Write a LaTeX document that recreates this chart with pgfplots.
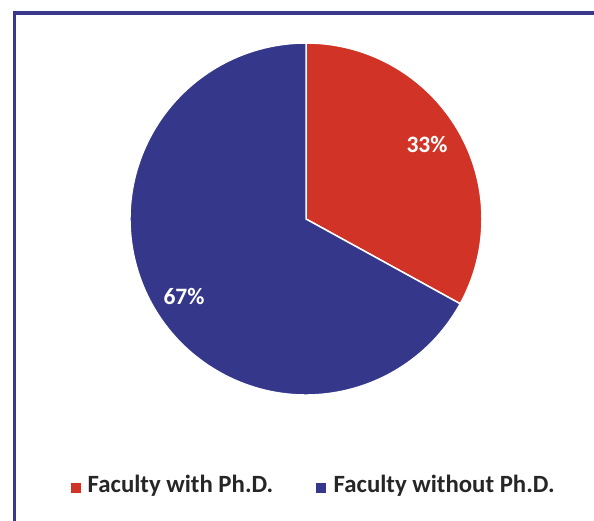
\documentclass[border=0pt]{standalone}
\usepackage{pgfplots}
\pgfplotsset{compat=1.18}
\usepackage{pgfplotstable}
\usepackage{fontspec}
\setmainfont{Carlito}
\definecolor{pred}{RGB}{209,52,38}
\definecolor{pblue}{RGB}{53,56,138}
\definecolor{frame}{RGB}{58,56,140}
\definecolor{txt}{RGB}{38,38,38}
\pgfplotstableread{
label share
with 33
without 67
}\piedata
\begin{document}
\begin{tikzpicture}
\pgfplotstablegetelem{0}{share}\of\piedata\let\sA\pgfplotsretval
\pgfplotstablegetelem{1}{share}\of\piedata\let\sB\pgfplotsretval
\pgfmathsetmacro{\aEnd}{90-3.6*\sA}
\pgfmathsetmacro{\bEnd}{\aEnd-3.6*\sB}
\useasboundingbox (0,0) rectangle (594bp,521bp);
\clip (0,0) rectangle (594bp,521bp);
\begin{axis}[at={(0,0)},anchor=south west,width=594bp,height=521bp,scale only axis,
  xmin=0,xmax=594,ymin=0,ymax=521,hide axis,clip=false]
\addplot[draw=none] coordinates {(0,0)};
\fill[pred,draw=white,line width=1.5bp] (axis cs:306,302) -- ++(90:176bp) arc[start angle=90,end angle=\aEnd,radius=176bp] -- cycle;
\fill[pblue,draw=white,line width=1.5bp] (axis cs:306,302) -- ++(\aEnd:176bp) arc[start angle=\aEnd,end angle=\bEnd,radius=176bp] -- cycle;
\node[text=white,font=\fontsize{23.5bp}{28bp}\selectfont\bfseries] at (axis cs:427,376) {33\%};
\node[text=white,font=\fontsize{23.5bp}{28bp}\selectfont\bfseries] at (axis cs:184,225) {67\%};
\fill[pred] (axis cs:70.5,28) rectangle (axis cs:80.5,38);
\node[anchor=west,inner sep=0pt,text=txt,font=\fontsize{24.8bp}{29bp}\selectfont\bfseries] at (axis cs:87.5,35) {Faculty with Ph.D.};
\fill[pblue] (axis cs:316,28) rectangle (axis cs:326,38);
\node[anchor=west,inner sep=0pt,text=txt,font=\fontsize{24.8bp}{29bp}\selectfont\bfseries] at (axis cs:333.5,35) {Faculty without Ph.D.};
\end{axis}
\draw[frame,line width=3.5bp] (14.5bp,-20bp) -- (14.5bp,508bp) -- (620bp,508bp);
\end{tikzpicture}
\end{document}
